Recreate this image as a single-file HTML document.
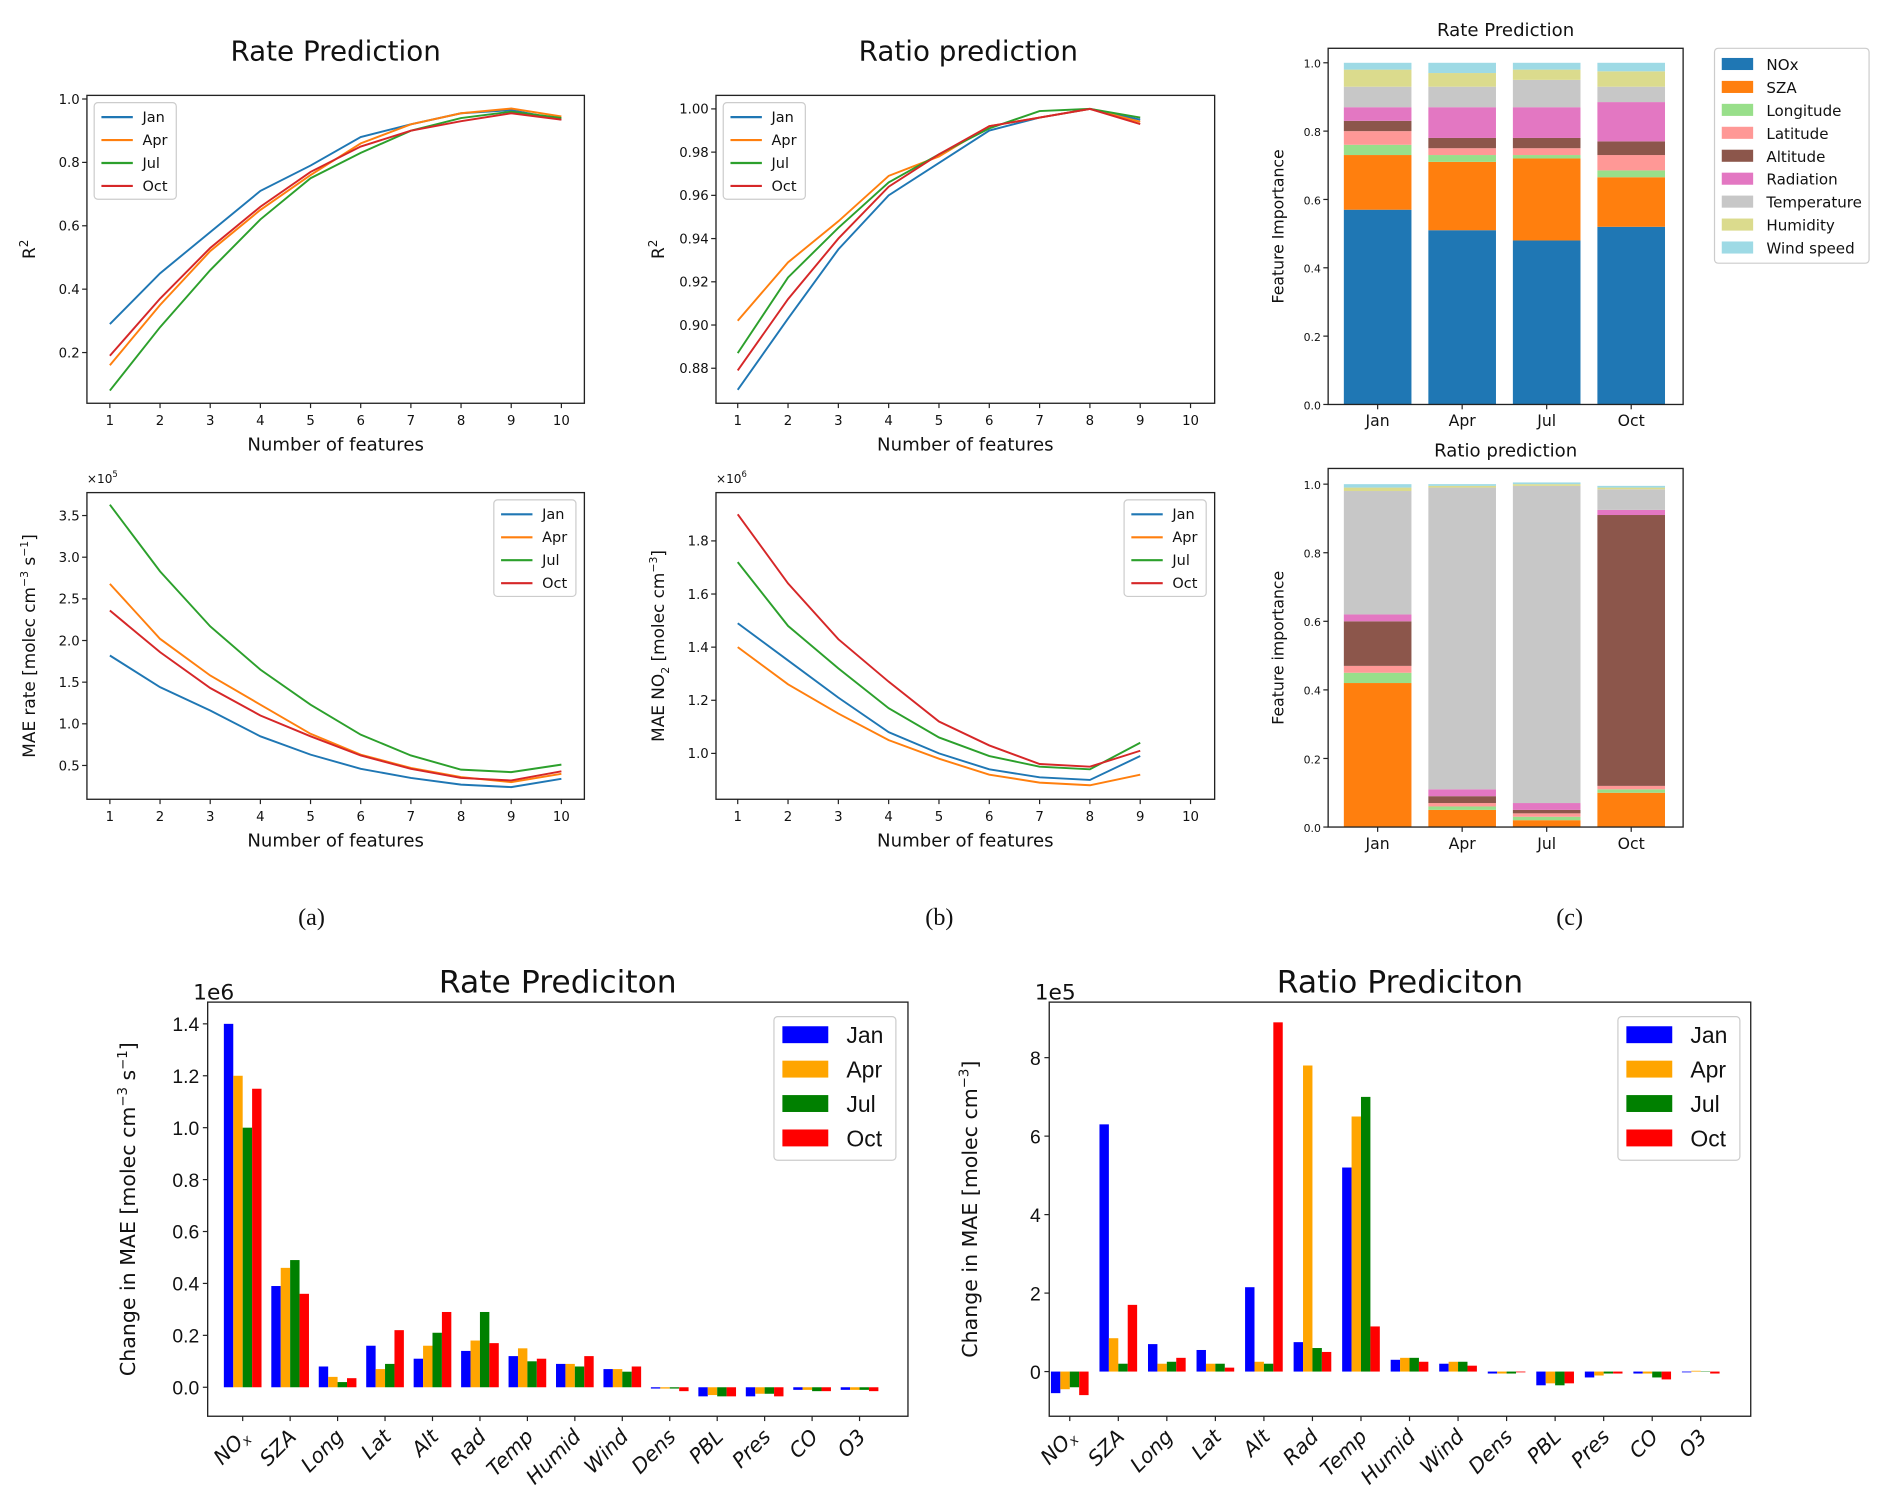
<!DOCTYPE html>
<html><head><meta charset="utf-8"><style>
html,body{margin:0;padding:0;background:#fff;width:1892px;height:1508px;overflow:hidden}
svg{display:block}
text{font-family:"DejaVu Sans","Liberation Sans",sans-serif;fill:#111}
</style></head><body>
<svg id="fig" width="1892" height="1508" viewBox="0 0 1567 1249" preserveAspectRatio="none" xmlns="http://www.w3.org/2000/svg"></svg>
<script>
// ---- data ----
const months = ["Jan","Apr","Jul","Oct"];
const lineColors = ["#1f77b4","#ff7f0e","#2ca02c","#d62728"];
const featCountA = [1,2,3,4,5,6,7,8,9,10];
const featCountB = [1,2,3,4,5,6,7,8,9];
const rateR2Jan = [.29,.45,.58,.71,.79,.88,.92,.955,.965,.935];
const rateR2Apr = [.16,.35,.52,.65,.76,.86,.92,.955,.97,.945];
const rateR2Jul = [.08,.28,.46,.62,.75,.83,.90,.94,.96,.94];
const rateR2Oct = [.19,.37,.53,.66,.77,.85,.90,.93,.955,.935];
const rateMaeJan = [1.82,1.44,1.16,.85,.63,.46,.35,.27,.24,.34];
const rateMaeApr = [2.68,2.02,1.58,1.23,.88,.63,.47,.36,.30,.40];
const rateMaeJul = [3.63,2.83,2.17,1.65,1.23,.87,.62,.45,.42,.51];
const rateMaeOct = [2.36,1.86,1.43,1.10,.85,.62,.46,.35,.32,.43];
const ratioR2Jan = [.870,.903,.935,.960,.975,.990,.996,1.000,.995];
const ratioR2Apr = [.902,.929,.948,.969,.978,.992,.996,1.000,.994];
const ratioR2Jul = [.887,.922,.945,.966,.979,.991,.999,1.000,.996];
const ratioR2Oct = [.879,.912,.940,.964,.979,.992,.996,1.000,.993];
const ratioMaeJan = [1.49,1.35,1.21,1.08,1.00,.94,.91,.90,.99];
const ratioMaeApr = [1.40,1.26,1.15,1.05,.98,.92,.89,.88,.92];
const ratioMaeJul = [1.72,1.48,1.32,1.17,1.06,.99,.95,.94,1.04];
const ratioMaeOct = [1.90,1.64,1.43,1.27,1.12,1.03,.96,.95,1.01];
const featNames = ["NOx","SZA","Longitude","Latitude","Altitude","Radiation","Temperature","Humidity","Wind speed"];
const featColors = ["#1f77b4","#ff7f0e","#98df8a","#ff9896","#8c564b","#e377c2","#c7c7c7","#dbdb8d","#9edae5"];
const impRateJan = [.57,.16,.03,.04,.03,.04,.06,.05,.02];
const impRateApr = [.51,.20,.02,.02,.03,.09,.06,.04,.03];
const impRateJul = [.48,.24,.01,.02,.03,.09,.08,.03,.02];
const impRateOct = [.52,.145,.02,.045,.04,.115,.045,.045,.025];
const impRatioJan = [0,.42,.03,.02,.13,.02,.36,.01,.01];
const impRatioApr = [0,.05,.01,.01,.02,.02,.88,.005,.005];
const impRatioJul = [0,.02,.01,.01,.01,.02,.925,.005,.005];
const impRatioOct = [0,.10,.01,.01,.79,.015,.06,.005,.005];
const permCats = ["NOx","SZA","Long","Lat","Alt","Rad","Temp","Humid","Wind","Dens","PBL","Pres","CO","O3"];
const barColors = ["#0000ff","#ffa500","#008000","#ff0000"];
const permRateJan = [1.40,.39,.08,.16,.11,.14,.12,.09,.07,-.005,-.035,-.035,-.01,-.01];
const permRateApr = [1.20,.46,.04,.07,.16,.18,.15,.09,.07,-.005,-.03,-.025,-.01,-.01];
const permRateJul = [1.00,.49,.02,.09,.21,.29,.10,.08,.06,-.005,-.035,-.025,-.015,-.01];
const permRateOct = [1.15,.36,.035,.22,.29,.17,.11,.12,.08,-.015,-.035,-.035,-.015,-.015];
const permRatioJan = [-.55,6.3,.7,.55,2.15,.75,5.2,.3,.2,-.05,-.35,-.15,-.05,-.02];
const permRatioApr = [-.45,.85,.2,.2,.25,7.8,6.5,.35,.25,-.05,-.3,-.1,-.05,.02];
const permRatioJul = [-.4,.2,.25,.2,.2,.6,7.0,.35,.25,-.05,-.35,-.05,-.15,0];
const permRatioOct = [-.6,1.7,.35,.1,8.9,.5,1.15,.25,.15,-.02,-.3,-.05,-.2,-.05];

const NS="http://www.w3.org/2000/svg";
const svg=document.getElementById('fig');
function mk(tag,attrs,parent){const e=document.createElementNS(NS,tag);for(const k in attrs)e.setAttribute(k,attrs[k]);(parent||svg).appendChild(e);return e;}
function txt(x,y,s,size,anchor,parent,extra){const e=mk('text',Object.assign({x:x,y:y,'font-size':size,'text-anchor':anchor||'middle'},extra||{}),parent);e.textContent=s;return e;}

function frame(g,x0,y0,x1,y1){const r=mk('rect',{x:x0,y:y0,width:x1-x0,height:y1-y0,fill:'none',stroke:'#222','stroke-width':1.1},g);}

function yTicks(g,x0,ys,vals,fmt,size){vals.forEach(v=>{const y=ys(v);mk('line',{x1:x0-4,y1:y,x2:x0,y2:y,stroke:'#222'},g);const t=txt(x0-6,y+4,fmt(v),size||11,'end',g);});}

function lineChart(name,box,xvals,xmax,yr,series,ticks,fmt,ylab,legendPos,mult){
  const g=mk('g',{});
  
  
  const [x0,y0,x1,y1]=box;
  const xs=v=>box[4]+(v-1)*box[5];
  const ys=v=>yr[2]-(v-yr[0])*yr[3];
  series.forEach((s,i)=>{const p=mk('polyline',{points:s.map((v,j)=>xs(xvals[j])+','+ys(v)).join(' '),fill:'none',stroke:lineColors[i],'stroke-width':1.6},g);});
  frame(g,x0,y0,x1,y1);
  for(let k=1;k<=xmax;k++){const x=xs(k);mk('line',{x1:x,y1:y1,x2:x,y2:y1+4,stroke:'#222'},g);const t=txt(x,y1+18,String(k),11,'middle',g);}
  yTicks(g,x0,ys,ticks,fmt);
  const xl=txt((x0+x1)/2,y1+39,'Number of features',15,'middle',g);
  const yl=mk('text',{transform:`translate(${x0-43},${(y0+y1)/2}) rotate(-90)`,'font-size':14,'text-anchor':'middle'},g);yl.innerHTML=ylab;
  if(mult){const m=mk('text',{x:x0,y:y0-8,'font-size':10},g);m.innerHTML=mult;}
  const [lx,ly]=legendPos;
  const lg=mk('g',{},g);
  mk('rect',{x:lx,y:ly,width:68,height:80,fill:'#fff',stroke:'#ccc',rx:3},lg);
  months.forEach((m,i)=>{const yy=ly+12+i*19;mk('line',{x1:lx+6,y1:yy,x2:lx+32,y2:yy,stroke:lineColors[i],'stroke-width':1.8},lg);const t=txt(lx+40,yy+4,m,12,'start',lg);});
}

// Titles
[[278,50,'Rate Prediction'],[802,50,'Ratio prediction']].forEach(a=>{const t=txt(a[0],a[1],a[2],23,'middle');});

lineChart('rate-r2-chart',[72,79,484,334,91,41.55],featCountA,10,[.2,0,292,262.5],[rateR2Jan,rateR2Apr,rateR2Jul,rateR2Oct],[.2,.4,.6,.8,1.0],v=>v.toFixed(1),'R<tspan dy="-6" font-size="10">2</tspan>',[78,85]);
lineChart('rate-mae-chart',[72,408,484,662,91,41.55],featCountA,10,[.5,0,634,69],[rateMaeJan,rateMaeApr,rateMaeJul,rateMaeOct],[.5,1.0,1.5,2.0,2.5,3.0,3.5],v=>v.toFixed(1),'MAE rate [molec cm<tspan dy="-6" font-size="9">−3</tspan><tspan dy="6"> s</tspan><tspan dy="-6" font-size="9">−1</tspan><tspan dy="6">]</tspan>',[409,414],'×10<tspan dy="-5" font-size="7">5</tspan>');
lineChart('ratio-r2-chart',[593,79,1006,334,611,41.67],featCountB,10,[.88,0,305,1790],[ratioR2Jan,ratioR2Apr,ratioR2Jul,ratioR2Oct],[.88,.90,.92,.94,.96,.98,1.00],v=>v.toFixed(2),'R<tspan dy="-6" font-size="10">2</tspan>',[599,85]);
lineChart('ratio-mae-chart',[593,408,1006,662,611,41.67],featCountB,10,[1.0,0,624,220],[ratioMaeJan,ratioMaeApr,ratioMaeJul,ratioMaeOct],[1.0,1.2,1.4,1.6,1.8],v=>v.toFixed(1),'MAE NO<tspan dy="4" font-size="9">2</tspan><tspan dy="-4"> [molec cm</tspan><tspan dy="-6" font-size="9">−3</tspan><tspan dy="6">]</tspan>',[931,414],'×10<tspan dy="-5" font-size="7">6</tspan>');

// stacked importance
function stacked(name,title,box,data,ylab,legend){
  const g=mk('g',{});
  
  
  const [x0,y0,x1,y1,ytop]=box;
  const ys=v=>y1-v*(y1-ytop);
  const centers=[1141,1211,1281,1351];
  data.forEach((arr,i)=>{let acc=0;arr.forEach((v,k)=>{if(v>0){const r=mk('rect',{x:centers[i]-28,y:ys(acc+v),width:56,height:ys(acc)-ys(acc+v),fill:featColors[k]},g);}acc+=v;});
    mk('line',{x1:centers[i],y1:y1,x2:centers[i],y2:y1+4,stroke:'#222'},g);const t=txt(centers[i],y1+18,months[i],13,'middle',g);});
  frame(g,x0,y0,x1,y1);
  yTicks(g,x0,ys,[0,.2,.4,.6,.8,1.0],v=>v.toFixed(1),9);
  const tt=txt((x0+x1)/2,y0-10,title,15,'middle',g);
  const yl=txt(0,0,ylab,13,'middle',g,{transform:`translate(${x0-37},${(y0+y1)/2}) rotate(-90)`});
  if(legend){const lg=mk('g',{},g);
    mk('rect',{x:1420,y:40,width:128,height:178,fill:'#fff',stroke:'#ccc',rx:3},lg);
    featNames.forEach((f,k)=>{const yy=53+k*19;mk('rect',{x:1426,y:yy-5,width:26,height:10,fill:featColors[k]},lg);const t=txt(1463,yy+5,f,12.5,'start',lg);});}
}
stacked('rate-importance-chart','Rate Prediction',[1100,40,1394,335,52],[impRateJan,impRateApr,impRateJul,impRateOct],'Feature Importance',true);
stacked('ratio-importance-chart','Ratio prediction',[1100,388,1394,685,401],[impRatioJan,impRatioApr,impRatioJul,impRatioOct],'Feature importance',false);

[[258,766,'(a)'],[778,766,'(b)'],[1300,766,'(c)']].forEach(a=>{const t=txt(a[0],a[1],a[2],20,'middle',null,{style:'font-family:"Liberation Serif",serif'});});

// grouped bars
function grouped(name,title,box,data,ticks,fmt,ys0,ypx,mult,ylab,legendX){
  const g=mk('g',{});
  
  
  const [x0,y0,x1,y1,c0,sp]=box;
  const ys=v=>ys0-v*ypx;
  const xs=i=>c0+i*sp;
  data.forEach((arr,m)=>{arr.forEach((v,i)=>{const a=ys(Math.max(v,0)),b=ys(Math.min(v,0));const r=mk('rect',{x:xs(i)-15.6+m*7.8,y:a,width:7.8,height:Math.max(b-a,0.3),fill:barColors[m]},g);});});
  frame(g,x0,y0,x1,y1);
  permCats.forEach((c,i)=>{const x=xs(i);mk('line',{x1:x,y1:y1,x2:x,y2:y1+4,stroke:'#222'},g);const t=mk('text',{transform:`translate(${x+6},${y1+18}) rotate(-45)`,'font-size':17,'text-anchor':'end','font-style':'italic'},g);t.innerHTML=c==='NOx'?'NO<tspan font-size="11" dy="3">x</tspan>':c;});
  ticks.forEach(v=>{const y=ys(v);mk('line',{x1:x0-4,y1:y,x2:x0,y2:y,stroke:'#222'},g);const t=txt(x0-7,y+6,fmt(v),16,'end',g,{style:'font-family:"Liberation Sans",sans-serif'});});
  const tt=txt((x0+x1)/2,y0-8,title,26,'middle',g);
  const mm=txt(x0-12,y0-2,mult,18,'start',g);
  const yl=mk('text',{transform:`translate(${x0-60},${(y0+y1)/2}) rotate(-90)`,'font-size':17,'text-anchor':'middle'},g);yl.innerHTML=ylab;
  const lg=mk('g',{},g);
  mk('rect',{x:legendX,y:842,width:101,height:119,fill:'#fff',stroke:'#ccc',rx:3},lg);
  months.forEach((m,i)=>{const yy=857+i*28.5;mk('rect',{x:legendX+7,y:yy-7,width:38,height:14,fill:barColors[i]},lg);const t=txt(legendX+60,yy+7,m,19,'start',lg,{style:'font-family:"Liberation Sans",sans-serif'});});
}
grouped('rate-permutation-chart','Rate Prediciton',[172,830,752,1173,201,39.3],[permRateJan,permRateApr,permRateJul,permRateOct],[0,.2,.4,.6,.8,1.0,1.2,1.4],v=>v.toFixed(1),1149,215,'1e6','Change in MAE [molec cm<tspan dy="-7" font-size="11">−3</tspan><tspan dy="7"> s</tspan><tspan dy="-7" font-size="11">−1</tspan><tspan dy="7">]</tspan>',641);
grouped('ratio-permutation-chart','Ratio Prediciton',[869,830,1450,1173,886,40.2],[permRatioJan,permRatioApr,permRatioJul,permRatioOct],[0,2,4,6,8],v=>String(v),1136,32.5,'1e5','Change in MAE [molec cm<tspan dy="-7" font-size="11">−3</tspan><tspan dy="7">]</tspan>',1340);
</script>
</body></html>
